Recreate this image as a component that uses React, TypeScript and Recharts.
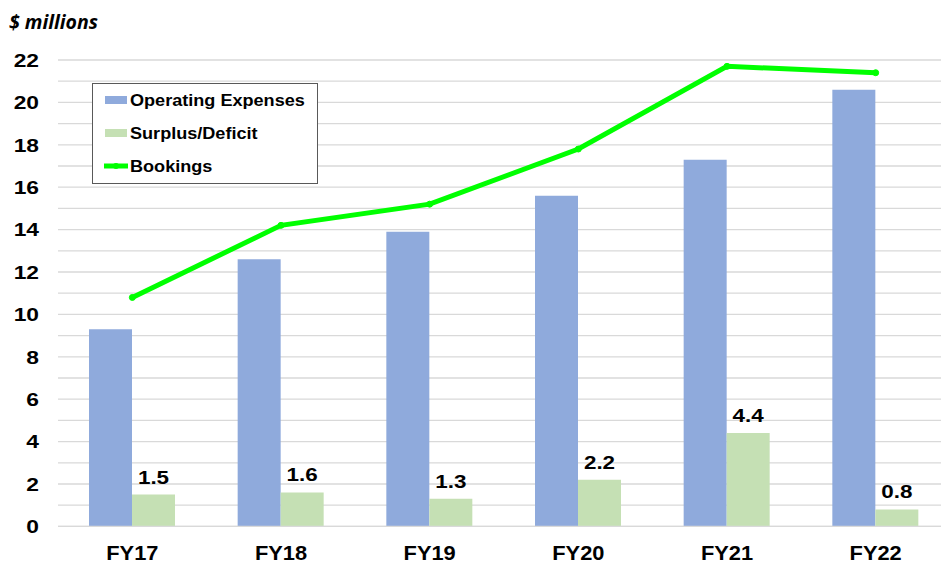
import React from 'react';
import { ComposedChart, Bar, Line, XAxis, YAxis, CartesianGrid, Legend, LabelList } from 'recharts';

const categories = ['FY17', 'FY18', 'FY19', 'FY20', 'FY21', 'FY22'];
const operatingExpenses = [9.3, 12.6, 13.9, 15.6, 17.3, 20.6];
const surplusDeficit = [1.5, 1.6, 1.3, 2.2, 4.4, 0.8];
const bookings = [10.8, 14.2, 15.2, 17.8, 21.7, 21.4];
const yTicks = [0, 1, 2, 3, 4, 5, 6, 7, 8, 9, 10, 11, 12, 13, 14, 15, 16, 17, 18, 19, 20, 21, 22];
const legendItems = [
  { name: 'Operating Expenses', kind: 'bar', color: '#8FAADC' },
  { name: 'Surplus/Deficit', kind: 'bar', color: '#C5E0B4' },
  { name: 'Bookings', kind: 'line', color: '#00FF00' },
];

const data = categories.map((c, i) => ({
  name: c,
  opex: operatingExpenses[i],
  surplus: surplusDeficit[i],
  bookings: bookings[i],
}));

const FONT = '"Liberation Sans", Arial, sans-serif';

const LegendBox = () => (
  <svg width={226} height={101} style={{ display: 'block' }}>
    <rect x={0.5} y={0.5} width={225} height={100} fill="#fff" stroke="#595959" strokeWidth={1} />
    {legendItems.map((it, i) => {
      const cy = 17 + i * 33;
      return (
        <g key={it.name}>
          {it.kind === 'bar' ? (
            <rect x={13} y={cy - 4} width={22} height={8} fill={it.color} />
          ) : (
            <g>
              <line x1={12} x2={36} y1={cy} y2={cy} stroke={it.color} strokeWidth={5} />
              <circle cx={24} cy={cy} r={3} fill={it.color} />
            </g>
          )}
          <text
            transform={`translate(38,${cy + 6}) scale(1.11,1)`}
            fontFamily={FONT}
            fontWeight="bold"
            fontSize={16.3}
            fill="#000"
          >
            {it.name}
          </text>
        </g>
      );
    })}
  </svg>
);

const YTick = (props: any) => {
  const { x, y, payload } = props;
  if (payload.value % 2 !== 0) return null;
  return (
    <text
      transform={`translate(${x},${y}) scale(1.2,1)`}
      textAnchor="end"
      dy="0.355em"
      fontFamily={FONT}
      fontWeight="bold"
      fontSize={19}
      fill="#000"
    >
      {payload.value}
    </text>
  );
};

const XTick = (props: any) => {
  const { x, y, payload } = props;
  return (
    <text
      transform={`translate(${x},${y}) scale(1.04,1)`}
      textAnchor="middle"
      dy="0.71em"
      fontFamily={FONT}
      fontWeight="bold"
      fontSize={21}
      fill="#000"
    >
      {payload.value}
    </text>
  );
};

const BarLabel = (props: any) => {
  const { x, y, width, value } = props;
  return (
    <text
      transform={`translate(${x + width / 2},${y - 11}) scale(1.18,1)`}
      textAnchor="middle"
      fontFamily={FONT}
      fontWeight="bold"
      fontSize={19}
      fill="#000"
    >
      {value}
    </text>
  );
};

export default function App() {
  return (
    <div style={{ position: 'absolute', left: 0, top: 0, width: 941, height: 564, overflow: 'hidden', background: '#fff' }}>
      <div style={{ position: 'absolute', left: 9, top: 8, fontFamily: '"Open Sans", sans-serif', fontWeight: 'bold', fontStyle: 'italic', fontSize: 19.5, lineHeight: '28px', color: '#000' }}>
        $ millions
      </div>
      <ComposedChart
        width={960}
        height={564}
        data={data}
        margin={{ top: 60, right: 10, bottom: 0, left: 0 }}
        barGap={0}
      >
        <CartesianGrid vertical={false} stroke="#D9D9D9" strokeWidth={1.3} />
        <XAxis
          dataKey="name"
          height={37.6}
          axisLine={{ stroke: '#D9D9D9', strokeWidth: 1.3 }}
          tickLine={false}
          tickSize={0}
          tickMargin={18.6}
          tick={<XTick />}
        />
        <YAxis
          width={58}
          domain={[0, 22]}
          ticks={yTicks}
          interval={0}
          axisLine={false}
          tickLine={false}
          tickSize={0}
          tickMargin={19}
          tick={<YTick />}
        />
        <Legend
          layout="vertical"
          align="center"
          verticalAlign="middle"
          wrapperStyle={{ left: 92, top: 83, width: 226, height: 101 }}
          content={() => <LegendBox />}
        />
        <Bar dataKey="opex" name="Operating Expenses" fill="#8FAADC" barSize={43} isAnimationActive={false} />
        <Bar dataKey="surplus" name="Surplus/Deficit" fill="#C5E0B4" barSize={43} isAnimationActive={false}>
          <LabelList dataKey="surplus" content={<BarLabel />} />
        </Bar>
        <Line
          dataKey="bookings"
          name="Bookings"
          stroke="#00FF00"
          strokeWidth={5}
          dot={{ r: 3, fill: '#00FF00', stroke: '#00FF00', strokeWidth: 1 }}
          isAnimationActive={false}
        />
      </ComposedChart>
    </div>
  );
}
